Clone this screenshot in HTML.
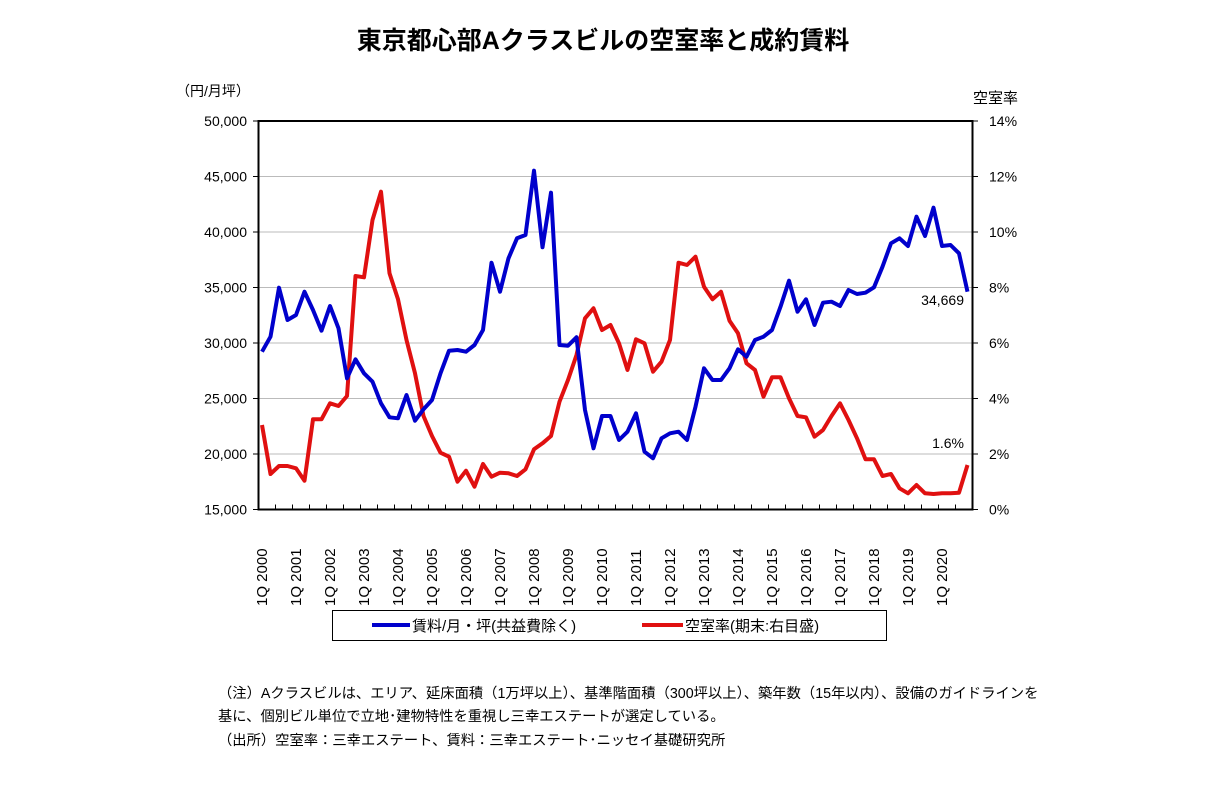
<!DOCTYPE html>
<html><head><meta charset="utf-8"><style>
body{margin:0;background:#fff;width:1219px;height:795px;overflow:hidden;font-family:"Liberation Sans","Noto Sans CJK JP",sans-serif;}
</style></head><body>
<svg id="s" width="1219" height="795" xmlns="http://www.w3.org/2000/svg" font-family="Liberation Sans, Noto Sans CJK JP, sans-serif">
<text x="603" y="49" text-anchor="middle" font-size="25" font-weight="bold">東京都心部Aクラスビルの空室率と成約賃料</text>
<text x="176" y="96" font-size="14">（円/月坪）</text>
<text x="973" y="103" font-size="15">空室率</text>
<g id="grid" stroke="#bbb" stroke-width="1"></g>
<rect x="258.5" y="121" width="714" height="388.5" fill="none" stroke="#000" stroke-width="2"/>
<g id="ticks" stroke="#000" stroke-width="1"></g>
<g id="labels" font-size="14"></g>
<polyline id="red" fill="none" stroke="#e01010" stroke-width="4" stroke-linejoin="round"/>
<polyline id="blue" fill="none" stroke="#0000cc" stroke-width="4" stroke-linejoin="round"/>
<text x="964" y="305" text-anchor="end" font-size="14">34,669</text>
<text x="964" y="448" text-anchor="end" font-size="14">1.6%</text>
<rect x="332.5" y="610.5" width="554" height="30" fill="none" stroke="#000" stroke-width="1"/>
<line x1="372" y1="625" x2="410" y2="625" stroke="#0000cc" stroke-width="4"/>
<text x="412" y="631" font-size="15">賃料/月・坪(共益費除く)</text>
<line x1="642" y1="625" x2="683" y2="625" stroke="#e01010" stroke-width="4"/>
<text x="685" y="631" font-size="15">空室率(期末:右目盛)</text>
<text x="218" y="698" font-size="14.3">（注）Aクラスビルは、エリア、延床面積（1万坪以上）、基準階面積（300坪以上）、築年数（15年以内）、設備のガイドラインを</text>
<text x="218" y="721" font-size="14.3">基に、個別ビル単位で立地･建物特性を重視し三幸エステートが選定している。</text>
<text x="218" y="745" font-size="14.3">（出所）空室率：三幸エステート、賃料：三幸エステート･ニッセイ基礎研究所</text>
</svg>
<script>
(function(){
var NS="http://www.w3.org/2000/svg";
function el(p,t,a,txt){var e=document.createElementNS(NS,t);for(var k in a)e.setAttribute(k,a[k]);if(txt)e.textContent=txt;document.getElementById(p).appendChild(e);}
var pTop=121,pBot=509.5,pH=pBot-pTop;
for(var i=0;i<=7;i++){var y=pBot-pH*i/7;
 if(i>0&&i<7)el('grid','line',{x1:259,x2:972,y1:y,y2:y});
 el('ticks','line',{x1:253,x2:258,y1:y,y2:y});
 el('ticks','line',{x1:973,x2:978,y1:y,y2:y});
 el('labels','text',{x:247,y:y+5,'text-anchor':'end'},(15000+5000*i).toLocaleString('en-US'));
 el('labels','text',{x:989,y:y+5},(2*i)+'%');
}
for(var q=0;q<=42;q++){var x=258.5+17*q;el('ticks','line',{x1:x,x2:x,y1:pBot-5,y2:pBot});}
for(var yr=0;yr<=20;yr++){var x=262+34*yr;el('labels','text',{x:0,y:0,'font-size':15,transform:'translate('+(x+5)+',606) rotate(-90)'},'1Q '+(2000+yr));}
var B=[725,680,533,630,615,545,600,662,588,655,805,748,790,815,880,922,925,855,932,898,870,790,722,720,725,705,660,458,545,445,385,375,182,412,248,705,707,682,900,1015,918,918,990,965,910,1025,1045,985,970,965,990,890,775,810,810,775,718,740,690,680,660,590,512,605,568,645,578,575,588,540,552,548,532,470,400,385,408,320,378,293,408,405,430,545];
var R=[945,1092,1068,1068,1075,1112,928,928,880,888,858,498,502,330,245,490,568,690,790,918,978,1028,1040,1115,1082,1130,1062,1100,1088,1090,1098,1078,1018,1000,978,875,810,735,625,595,660,645,700,780,688,700,785,755,690,458,465,440,530,568,545,632,670,760,780,860,802,802,865,918,922,980,960,918,880,930,985,1048,1048,1098,1092,1135,1150,1125,1150,1152,1150,1150,1148,1065];
function pts(a){return a.map(function(Y,i){return (262+8.5*i).toFixed(1)+','+(110+Y/3).toFixed(1);}).join(' ');}
document.getElementById('blue').setAttribute('points',pts(B));
document.getElementById('red').setAttribute('points',pts(R));
})();
</script>
</body></html>
